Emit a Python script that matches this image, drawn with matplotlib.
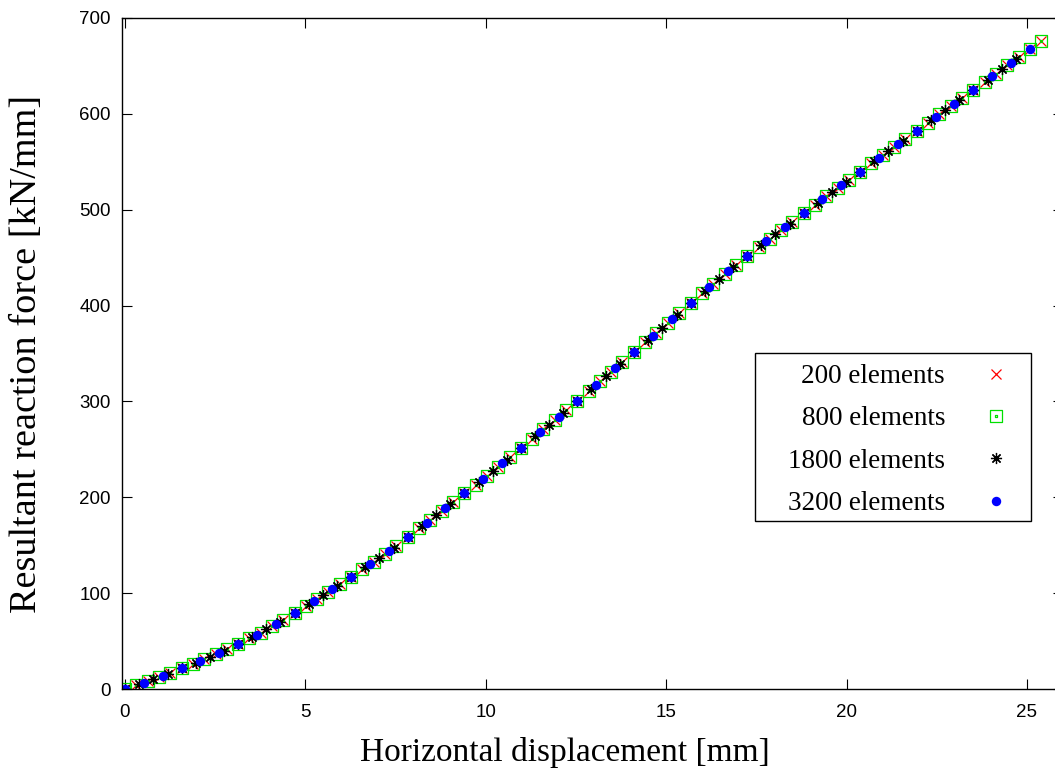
import matplotlib
matplotlib.use("Agg")
import matplotlib.pyplot as plt
from matplotlib.path import Path
from matplotlib.patches import Rectangle

# ---------------- data ----------------
x_200 = [0.00, 0.31, 0.63, 0.94, 1.25, 1.57, 1.88, 2.19, 2.51, 2.82,
         3.14, 3.45, 3.76, 4.08, 4.39, 4.70, 5.02, 5.33, 5.64, 5.96,
         6.27, 6.58, 6.90, 7.21, 7.52, 7.84, 8.15, 8.46, 8.78, 9.09,
         9.41, 9.72, 10.03, 10.35, 10.66, 10.97, 11.29, 11.60, 11.91, 12.23,
         12.54, 12.85, 13.17, 13.48, 13.79, 14.11, 14.42, 14.73, 15.05, 15.36,
         15.68, 15.99, 16.30, 16.62, 16.93, 17.24, 17.56, 17.87, 18.18, 18.50,
         18.81, 19.12, 19.44, 19.75, 20.06, 20.38, 20.69, 21.00, 21.32, 21.63,
         21.95, 22.26, 22.57, 22.89, 23.20, 23.51, 23.83, 24.14, 24.45, 24.77,
         25.08, 25.39]
y_200 = [0.0, 4.0, 8.0, 12.2, 16.7, 21.4, 26.1, 30.9, 36.0, 41.4,
         46.9, 52.8, 58.9, 65.4, 72.2, 79.2, 86.5, 93.8, 101.4, 109.1,
         116.9, 124.8, 132.8, 141.0, 149.6, 158.5, 167.5, 176.5, 185.6, 194.8,
         204.0, 213.3, 222.7, 232.1, 241.7, 251.3, 261.1, 270.9, 280.9, 290.9,
         300.9, 310.9, 321.0, 331.1, 341.3, 351.5, 361.7, 371.9, 382.2, 392.4,
         402.6, 412.7, 422.7, 432.5, 442.1, 451.6, 460.8, 469.9, 478.8, 487.6,
         496.4, 505.1, 513.8, 522.4, 531.1, 539.7, 548.3, 556.8, 565.4, 573.9,
         582.4, 590.9, 599.4, 608.0, 616.5, 625.0, 633.5, 642.1, 650.6, 659.2,
         667.8, 676.4]

x_800 = [0.00, 0.31, 0.63, 0.94, 1.25, 1.57, 1.88, 2.19, 2.51, 2.82,
         3.14, 3.45, 3.76, 4.08, 4.39, 4.70, 5.02, 5.33, 5.64, 5.96,
         6.27, 6.58, 6.90, 7.21, 7.52, 7.84, 8.15, 8.46, 8.78, 9.09,
         9.41, 9.72, 10.03, 10.35, 10.66, 10.97, 11.29, 11.60, 11.91, 12.23,
         12.54, 12.85, 13.17, 13.48, 13.79, 14.11, 14.42, 14.73, 15.05, 15.36,
         15.68, 15.99, 16.30, 16.62, 16.93, 17.24, 17.56, 17.87, 18.18, 18.50,
         18.81, 19.12, 19.44, 19.75, 20.06, 20.38, 20.69, 21.00, 21.32, 21.63,
         21.95, 22.26, 22.57, 22.89, 23.20, 23.51, 23.83, 24.14, 24.45, 24.77,
         25.08, 25.39]
y_800 = [0.0, 4.0, 8.0, 12.2, 16.7, 21.4, 26.1, 30.9, 36.0, 41.4,
         46.9, 52.8, 58.9, 65.4, 72.2, 79.2, 86.5, 93.8, 101.4, 109.1,
         116.9, 124.8, 132.8, 141.0, 149.6, 158.5, 167.5, 176.5, 185.6, 194.8,
         204.0, 213.3, 222.7, 232.1, 241.7, 251.3, 261.1, 270.9, 280.9, 290.9,
         300.9, 310.9, 321.0, 331.1, 341.3, 351.5, 361.7, 371.9, 382.2, 392.4,
         402.6, 412.7, 422.7, 432.5, 442.1, 451.6, 460.8, 469.9, 478.8, 487.6,
         496.4, 505.1, 513.8, 522.4, 531.1, 539.7, 548.3, 556.8, 565.4, 573.9,
         582.4, 590.9, 599.4, 608.0, 616.5, 625.0, 633.5, 642.1, 650.6, 659.2,
         667.8, 676.4]

x_1800 = [0.00, 0.39, 0.78, 1.18, 1.57, 1.96, 2.35, 2.74, 3.14, 3.53,
          3.92, 4.31, 4.70, 5.09, 5.49, 5.88, 6.27, 6.66, 7.05, 7.45,
          7.84, 8.23, 8.62, 9.01, 9.41, 9.80, 10.19, 10.58, 10.97, 11.37,
          11.76, 12.15, 12.54, 12.93, 13.33, 13.72, 14.11, 14.50, 14.89, 15.29,
          15.68, 16.07, 16.46, 16.85, 17.24, 17.64, 18.03, 18.42, 18.81, 19.20,
          19.60, 19.99, 20.38, 20.77, 21.16, 21.56, 21.95, 22.34, 22.73, 23.12,
          23.51, 23.91, 24.30, 24.69]
y_1800 = [0.0, 5.0, 10.1, 15.6, 21.4, 27.3, 33.5, 40.0, 46.9, 54.3,
          62.2, 70.4, 79.2, 88.3, 97.6, 107.2, 116.9, 126.8, 136.9, 147.4,
          158.5, 169.8, 181.1, 192.5, 204.0, 215.6, 227.4, 239.3, 251.3, 263.5,
          275.9, 288.4, 300.9, 313.4, 326.1, 338.8, 351.5, 364.3, 377.1, 389.9,
          402.6, 415.2, 427.6, 439.8, 451.6, 463.1, 474.4, 485.5, 496.4, 507.3,
          518.1, 528.9, 539.7, 550.4, 561.1, 571.8, 582.4, 593.1, 603.7, 614.4,
          625.0, 635.7, 646.4, 657.1]

x_3200 = [0.00, 0.52, 1.05, 1.57, 2.09, 2.61, 3.14, 3.66, 4.18, 4.70,
          5.23, 5.75, 6.27, 6.79, 7.32, 7.84, 8.36, 8.88, 9.41, 9.93,
          10.45, 10.97, 11.50, 12.02, 12.54, 13.06, 13.59, 14.11, 14.63, 15.15,
          15.68, 16.20, 16.72, 17.24, 17.77, 18.29, 18.81, 19.33, 19.86, 20.38,
          20.90, 21.42, 21.95, 22.47, 22.99, 23.51, 24.04, 24.56, 25.08]
y_3200 = [0.0, 6.6, 13.6, 21.4, 29.2, 37.7, 46.9, 56.8, 67.5, 79.2,
          91.3, 103.9, 116.9, 130.1, 143.7, 158.5, 173.5, 188.6, 204.0, 219.5,
          235.3, 251.3, 267.6, 284.2, 300.9, 317.6, 334.5, 351.5, 368.5, 385.6,
          402.6, 419.4, 435.8, 451.6, 466.9, 481.8, 496.4, 510.9, 525.3, 539.7,
          554.0, 568.2, 582.4, 596.6, 610.8, 625.0, 639.2, 653.5, 667.8]

labels = ["200 elements", "800 elements", "1800 elements", "3200 elements"]
xticks = [0, 5, 10, 15, 20, 25]
yticks = [0, 100, 200, 300, 400, 500, 600, 700]

# ---------------- figure ----------------
W, H = 1055, 772
fig = plt.figure(figsize=(W / 100, H / 100), dpi=100)
left_px, right_px, top_px, bot_px = 122, 1063, 18, 689
ax = fig.add_axes([left_px / W, 1 - bot_px / H,
                   (right_px - left_px) / W, (bot_px - top_px) / H])

# boxed-dot marker (gnuplot point type)
outer = [(-1, -1), (1, -1), (1, 1), (-1, 1), (-1, -1)]
inner = [(-0.12, -0.12), (0.12, -0.12), (0.12, 0.12), (-0.12, 0.12), (-0.12, -0.12)]
codes = [Path.MOVETO] + [Path.LINETO] * 3 + [Path.CLOSEPOLY]
box_dot = Path(outer + inner, codes + codes)

ax.plot(x_200, y_200, linestyle="none", marker="x", markersize=7.2,
        markeredgewidth=0.9, color="#ff0000", label=labels[0])
ax.plot(x_800, y_800, linestyle="none", marker=box_dot, markersize=8.3,
        markeredgewidth=0.9, markerfacecolor="none", markeredgecolor="#00e000",
        label=labels[1])
ax.plot(x_1800, y_1800, linestyle="none", marker=(8, 2, 0), markersize=8.0,
        markeredgewidth=0.9, color="#000000", label=labels[2])
ax.plot(x_3200, y_3200, linestyle="none", marker="o", markersize=6.8,
        markeredgewidth=0, color="#0000ff", label=labels[3])

ax.set_xlim(-0.083, 26.0)
ax.set_ylim(0, 700)
ax.set_xticks(xticks)
ax.set_yticks(yticks)
ax.tick_params(direction="in", length=7, width=0.8, top=True, right=True,
               labelsize=13.5, pad=8)
ax.tick_params(axis="x", pad=11)
for lab in ax.get_xticklabels() + ax.get_yticklabels():
    lab.set_fontfamily("Liberation Sans")
for s in ax.spines.values():
    s.set_linewidth(1.0)

ax.set_xlabel("Horizontal displacement [mm]", family="Liberation Serif",
              fontsize=24)
ax.set_ylabel("Resultant reaction force [kN/mm]", family="Liberation Serif",
              fontsize=27.5)
ax.xaxis.set_label_coords((565 - left_px) / (right_px - left_px),
                          -(753 - bot_px) / (bot_px - top_px))
ax.yaxis.set_label_coords(-(95) / (right_px - left_px), 0.5)
ax.xaxis.label.set_va("center")
ax.yaxis.label.set_va("center")

leg = ax.legend(loc="upper right", markerfirst=False, frameon=False,
                prop={"family": "Liberation Serif", "size": 19.5},
                handlelength=1.0, handletextpad=1.4, labelspacing=0.64,
                borderpad=0, borderaxespad=0,
                bbox_to_anchor=(1010 / W, 1 - 364 / H),
                bbox_transform=fig.transFigure)

# frame around the legend (gnuplot-style key box with wider left margin)
fig.canvas.draw()
bb = leg.get_window_extent(fig.canvas.get_renderer())
padL, padR, padT, padB = 33, 21, 11, 5
rect = Rectangle(((bb.x0 - padL) / W, (bb.y0 - padB) / H),
                 (bb.width + padL + padR) / W, (bb.height + padT + padB) / H,
                 transform=fig.transFigure, facecolor="none",
                 edgecolor="black", linewidth=1.0, zorder=5)
fig.patches.append(rect)

fig.savefig("out.png", dpi=100)
